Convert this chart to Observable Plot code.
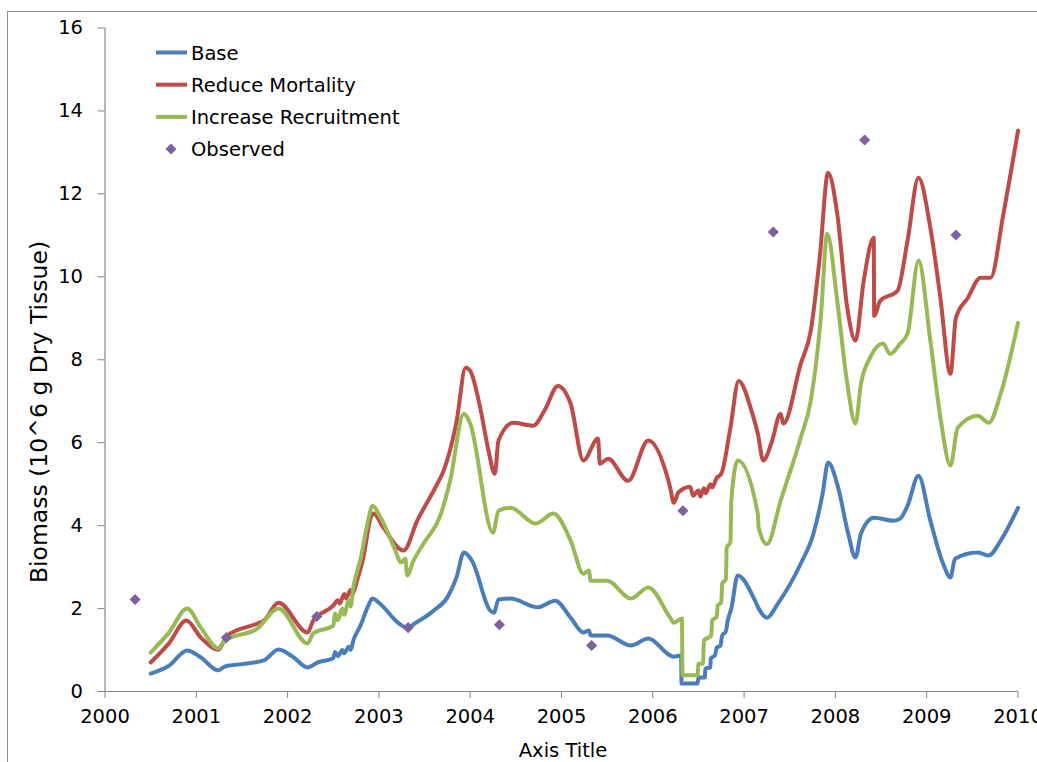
<!DOCTYPE html>
<html>
<head>
<meta charset="utf-8">
<script src="https://cdn.jsdelivr.net/npm/d3@7"></script>
<script src="https://cdn.jsdelivr.net/npm/@observablehq/plot@0.6"></script>
<style>
  html, body { margin: 0; padding: 0; background: #fff; overflow: hidden; }
  #wrap { position: relative; width: 1037px; height: 762px; font-family: "DejaVu Sans", sans-serif; }
  #border { position: absolute; left: 7px; top: 11px; width: 1100px; height: 800px;
            border-left: 1px solid #8c8c8c; border-top: 1px solid #8c8c8c; box-sizing: border-box; }
  #chart { position: absolute; left: 0; top: 0; }
  #overlay { position: absolute; left: 0; top: 0; pointer-events: none; }
</style>
</head>
<body>
<div id="wrap">
  <div id="border"></div>
  <div id="chart"></div>
  <svg id="overlay" width="1037" height="762"></svg>
</div>
<script>
// ---------- data ----------
const seriesNames = ["Base", "Reduce Mortality", "Increase Recruitment", "Observed"];
const seriesColors = ["#4A7EBB", "#BE4B48", "#98B954", "#7F61A3"];

const baseYear = [2000.50,2000.70,2000.90,2001.05,2001.24,2001.31,2001.50,2001.74,2001.90,2002.05,
  2002.22,2002.33,2002.50,2002.52,2002.55,2002.60,2002.62,2002.67,2002.69,2002.72,
  2002.80,2002.88,2002.93,2003.00,2003.22,2003.31,2003.40,2003.60,2003.75,2003.85,
  2003.93,2004.02,2004.22,2004.26,2004.31,2004.44,2004.74,2004.93,2005.10,2005.24,
  2005.30,2005.32,2005.50,2005.76,2005.95,2006.19,2006.23,2006.31,2006.315,2006.49,
  2006.50,2006.57,2006.575,2006.63,2006.635,2006.68,2006.70,2006.74,2006.76,2006.80,
  2006.82,2006.86,2006.93,2007.12,2007.16,2007.25,2007.37,2007.62,2007.76,2007.86,
  2007.92,2008.03,2008.14,2008.22,2008.28,2008.42,2008.64,2008.71,2008.79,2008.91,
  2009.04,2009.18,2009.26,2009.31,2009.56,2009.68,2009.81,2010.00];
const baseValue = [0.43,0.62,0.99,0.82,0.51,0.60,0.66,0.75,1.01,0.85,
  0.58,0.70,0.80,0.95,0.85,1.00,0.92,1.08,1.00,1.23,
  1.60,2.05,2.24,2.14,1.64,1.54,1.65,1.95,2.27,2.75,
  3.35,3.15,1.95,1.90,2.22,2.24,2.03,2.19,1.78,1.42,
  1.47,1.35,1.35,1.11,1.28,0.87,0.84,0.87,0.19,0.19,
  0.34,0.34,0.55,0.58,0.80,0.87,1.06,1.10,1.35,1.45,
  1.70,2.00,2.80,2.19,2.00,1.78,2.12,3.08,3.81,4.77,
  5.52,4.92,3.81,3.23,3.81,4.19,4.12,4.17,4.48,5.20,
  4.12,3.08,2.75,3.20,3.35,3.28,3.64,4.43];

const mortYear = [2000.50,2000.70,2000.89,2001.05,2001.24,2001.34,2001.67,2001.74,2001.90,2002.22,
  2002.28,2002.50,2002.55,2002.57,2002.62,2002.64,2002.69,2002.71,2002.76,2002.83,
  2002.91,2002.94,2003.05,2003.27,2003.42,2003.64,2003.71,2003.85,2003.95,2004.00,
  2004.11,2004.20,2004.27,2004.31,2004.47,2004.69,2004.82,2004.96,2005.10,2005.24,
  2005.40,2005.42,2005.51,2005.73,2005.95,2006.19,2006.23,2006.28,2006.41,2006.44,
  2006.50,2006.52,2006.56,2006.58,2006.63,2006.65,2006.70,2006.75,2006.85,2006.94,
  2007.09,2007.15,2007.21,2007.30,2007.40,2007.43,2007.62,2007.73,2007.83,2007.92,
  2008.02,2008.13,2008.22,2008.31,2008.42,2008.425,2008.49,2008.68,2008.79,2008.91,
  2009.04,2009.15,2009.26,2009.32,2009.45,2009.59,2009.70,2009.84,2010.00];
const mortValue = [0.70,1.16,1.71,1.30,1.01,1.35,1.64,1.71,2.14,1.42,
  1.71,2.07,2.20,2.12,2.35,2.25,2.45,2.36,2.67,3.23,
  4.19,4.29,3.95,3.40,4.12,5.01,5.33,6.50,7.81,7.73,
  6.84,5.81,5.25,6.05,6.48,6.41,6.80,7.37,6.94,5.57,
  6.10,5.49,5.61,5.08,6.05,4.92,4.55,4.80,4.94,4.72,
  4.85,4.70,4.90,4.78,5.00,4.92,5.15,5.25,6.36,7.49,
  6.70,6.22,5.57,6.00,6.70,6.46,7.90,8.70,10.50,12.51,
  11.52,9.25,8.46,9.90,10.94,9.06,9.42,9.66,10.87,12.39,
  11.18,9.49,7.66,9.01,9.49,9.98,9.98,11.52,13.52];

const recrYear = [2000.50,2000.70,2000.90,2001.05,2001.24,2001.31,2001.67,2001.90,2002.22,2002.28,
  2002.50,2002.52,2002.55,2002.60,2002.62,2002.67,2002.69,2002.72,2002.80,2002.88,
  2002.93,2003.02,2003.18,2003.24,2003.29,2003.31,2003.38,2003.49,2003.68,2003.78,
  2003.93,2004.00,2004.25,2004.31,2004.44,2004.72,2004.91,2005.10,2005.24,2005.30,
  2005.32,2005.50,2005.76,2005.95,2006.19,2006.23,2006.32,2006.325,2006.49,2006.50,
  2006.55,2006.56,2006.64,2006.65,2006.70,2006.71,2006.75,2006.76,2006.80,2006.81,
  2006.85,2006.86,2006.93,2007.15,2007.16,2007.25,2007.40,2007.62,2007.73,2007.84,
  2007.91,2008.02,2008.13,2008.22,2008.28,2008.38,2008.52,2008.60,2008.71,2008.79,
  2008.91,2009.04,2009.15,2009.26,2009.34,2009.56,2009.68,2009.81,2010.00];
const recrValue = [0.94,1.42,2.00,1.54,1.04,1.23,1.52,2.00,1.16,1.40,
  1.59,1.88,1.72,2.00,1.85,2.20,2.05,2.51,3.20,4.10,
  4.48,4.19,3.40,3.11,3.20,2.80,3.16,3.57,4.29,5.08,
  6.70,6.46,3.83,4.36,4.43,4.05,4.29,3.64,2.84,2.92,
  2.67,2.67,2.24,2.51,1.78,1.66,1.76,0.39,0.39,0.67,
  0.67,1.23,1.35,1.71,1.80,2.07,2.15,2.60,2.70,3.47,
  3.60,4.60,5.57,4.29,3.95,3.55,4.60,6.12,7.01,9.01,
  11.04,9.42,7.42,6.46,7.42,8.05,8.39,8.14,8.39,8.63,
  10.39,8.46,6.61,5.45,6.36,6.65,6.48,7.18,8.89];

const obsYear = [2000.33,2001.33,2002.32,2003.32,2004.32,2005.33,2006.33,2007.32,2008.32,2009.32];
const obsValue = [2.22,1.30,1.81,1.54,1.61,1.11,4.36,11.08,13.30,11.01];

const xTicks = [2000,2001,2002,2003,2004,2005,2006,2007,2008,2009,2010];
const yTicks = [0,2,4,6,8,10,12,14,16];
const xTitle = "Axis Title";
const yTitle = "Biomass (10^6 g Dry Tissue)";

// ---------- build tables ----------
const zip = (xs, ys) => xs.map((x, i) => ({year: x, value: ys[i]}));
const base = zip(baseYear, baseValue);
const mort = zip(mortYear, mortValue);
const recr = zip(recrYear, recrValue);
const obs = zip(obsYear, obsValue);

const axisGray = "#868686";
const FONT = "'DejaVu Sans', sans-serif";
const lineOpts = {x: "year", y: "value", strokeWidth: 4, strokeLinejoin: "round", curve: "monotone-x"};

const chart = Plot.plot({
  width: 1037,
  height: 762,
  marginLeft: 104.5,
  marginRight: 19.5,
  marginTop: 27.5,
  marginBottom: 71,
  style: {fontFamily: FONT, fontSize: "19.5px", color: "#000", background: "transparent", overflow: "visible"},
  x: {domain: [2000, 2010]},
  y: {domain: [0, 16]},
  marks: [
    Plot.ruleY([0], {stroke: axisGray, strokeWidth: 1.2}),
    Plot.ruleX([2000], {stroke: axisGray, strokeWidth: 1.2}),
    Plot.axisX({ticks: xTicks, tickFormat: d => String(d), tickSize: 7, tickPadding: 11,
                stroke: axisGray, fill: "#000", label: null}),
    Plot.axisY({ticks: yTicks, tickFormat: d => String(d), tickSize: 7, tickPadding: 15,
                stroke: axisGray, fill: "#000", label: null}),
    Plot.line(base, {...lineOpts, stroke: seriesColors[0]}),
    Plot.line(mort, {...lineOpts, stroke: seriesColors[1]}),
    Plot.line(recr, {...lineOpts, stroke: seriesColors[2]}),
    Plot.dot(obs, {x: "year", y: "value", symbol: "diamond2", r: 5, fill: seriesColors[3], stroke: "none"})
  ]
});
document.getElementById("chart").appendChild(chart);

// ---------- overlay: titles and legend ----------
const ov = d3.select("#overlay").style("font-family", FONT);
ov.append("text")
  .attr("transform", "translate(47,412) rotate(-90)")
  .attr("text-anchor", "middle")
  .attr("font-size", "23.5px")
  .attr("fill", "#000")
  .text(yTitle);
ov.append("text")
  .attr("x", 563).attr("y", 757)
  .attr("text-anchor", "middle")
  .attr("font-size", "19.5px")
  .attr("fill", "#000")
  .text(xTitle);

const lg = ov.append("g");
seriesNames.forEach((name, i) => {
  const cy = 52.5 + i * 32.2;
  if (i < 3) {
    lg.append("line").attr("x1", 156).attr("x2", 187).attr("y1", cy).attr("y2", cy)
      .attr("stroke", seriesColors[i]).attr("stroke-width", 4);
  } else {
    const s = 5.5;
    lg.append("path").attr("d", `M171,${cy - s}L${171 + s},${cy}L171,${cy + s}L${171 - s},${cy}Z`)
      .attr("fill", seriesColors[i]);
  }
  lg.append("text").attr("x", 191).attr("y", cy + 7)
    .attr("font-size", "19.5px").attr("fill", "#000").text(name);
});
</script>
</body>
</html>
